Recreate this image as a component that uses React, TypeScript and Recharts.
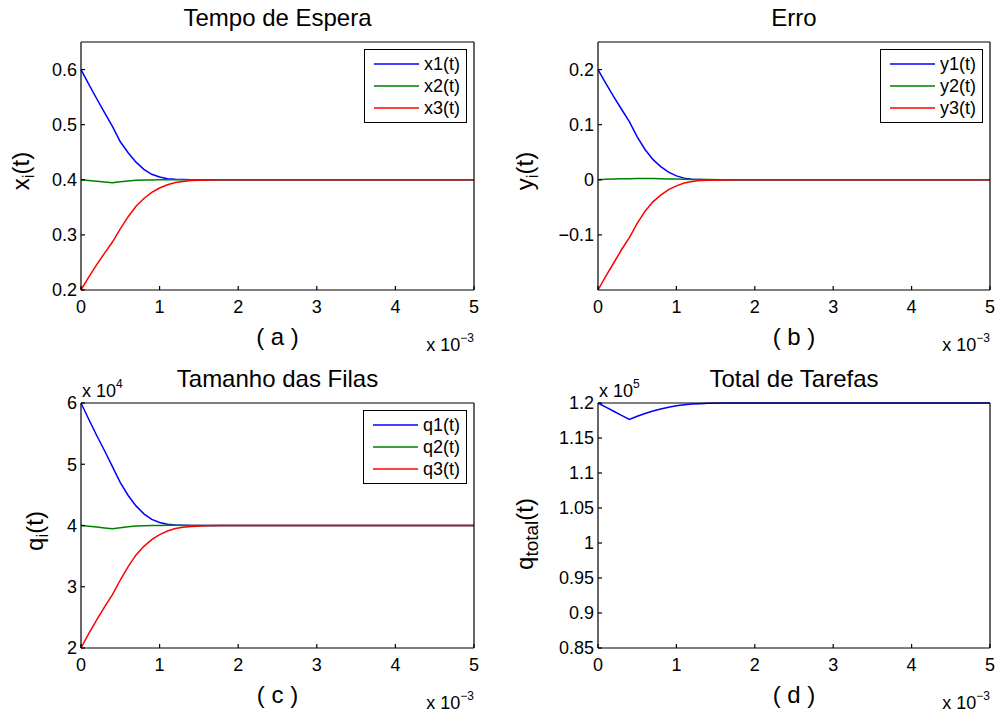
import React from 'react';
import { LineChart, Line, XAxis, YAxis, Legend } from 'recharts';

// time in seconds (axis shows x 10^-3)
const time = [0, 0.0001, 0.0002, 0.0003, 0.0004, 0.0005, 0.0006, 0.0007, 0.0008, 0.0009, 0.001, 0.0011, 0.0012, 0.0013, 0.0014, 0.0016, 0.0018, 0.002, 0.003, 0.004, 0.005];
const xTicks = [0, 0.001, 0.002, 0.003, 0.004, 0.005];

// (a) Tempo de Espera
const x1 = [0.6, 0.573, 0.547, 0.522, 0.497, 0.469, 0.449, 0.432, 0.419, 0.41, 0.405, 0.402, 0.401, 0.4005, 0.4, 0.4, 0.4, 0.4, 0.4, 0.4, 0.4];
const x2 = [0.4, 0.3987, 0.3974, 0.3961, 0.3948, 0.3965, 0.398, 0.399, 0.3995, 0.3998, 0.4, 0.4, 0.4, 0.4, 0.4, 0.4, 0.4, 0.4, 0.4, 0.4, 0.4];
const x3 = [0.2, 0.224, 0.246, 0.267, 0.287, 0.311, 0.333, 0.352, 0.366, 0.377, 0.385, 0.391, 0.395, 0.397, 0.3985, 0.3995, 0.4, 0.4, 0.4, 0.4, 0.4];
const aTicks = [0.2, 0.3, 0.4, 0.5, 0.6];

// (b) Erro
const y1 = [0.2, 0.175, 0.151, 0.128, 0.1055, 0.078, 0.055, 0.037, 0.024, 0.014, 0.007, 0.003, 0.001, 0.0004, 0, 0, 0, 0, 0, 0, 0];
const y2 = [0, 0.0008, 0.0014, 0.0018, 0.002, 0.0022, 0.0022, 0.0021, 0.0019, 0.0016, 0.0013, 0.001, 0.0007, 0.0005, 0.0003, 0.0001, 0, 0, 0, 0, 0];
const y3 = [-0.2, -0.175, -0.151, -0.127, -0.105, -0.079, -0.057, -0.04, -0.028, -0.018, -0.011, -0.006, -0.003, -0.0015, -0.0007, -0.0002, 0, 0, 0, 0, 0];
const bTicks = [-0.1, 0, 0.1, 0.2];

// (c) Tamanho das Filas
const q1 = [60000, 57300, 54700, 52200, 49600, 47000, 44900, 43200, 41900, 41000, 40500, 40200, 40100, 40050, 40000, 40000, 40000, 40000, 40000, 40000, 40000];
const q2 = [40000, 39870, 39740, 39610, 39480, 39650, 39800, 39900, 39950, 39980, 40020, 40030, 40030, 40020, 40015, 40010, 40000, 40000, 40000, 40000, 40000];
const q3 = [20000, 22400, 24600, 26700, 28700, 31100, 33300, 35200, 36600, 37700, 38500, 39100, 39500, 39700, 39850, 39950, 40000, 40000, 40000, 40000, 40000];
const cTicks = [20000, 30000, 40000, 50000, 60000];

// (d) Total de Tarefas
const qTotal = [120000, 119410, 118820, 118230, 117640, 118100, 118500, 118850, 119150, 119400, 119600, 119750, 119850, 119900, 119950, 120000, 120000, 120000, 120000, 120000, 120000];
const dTicks = [85000, 90000, 95000, 100000, 105000, 110000, 115000, 120000];

const FONT = '"Liberation Sans", Arial, Helvetica, sans-serif';
const BLUE = '#0000ff';
const GREEN = '#008000';
const RED = '#ff0000';

const rows = time.map((t, i) => ({
  t,
  x1: x1[i], x2: x2[i], x3: x3[i],
  y1: y1[i], y2: y2[i], y3: y3[i],
  q1: q1[i], q2: q2[i], q3: q3[i],
  qt: qTotal[i],
}));

type Series = { key: string; name: string; color: string };

function LegendBox({ items }: { items: Series[] }) {
  return (
    <div style={{ background: '#fff', border: '1.5px solid #000', padding: '3px 6px 3px 9px', fontSize: 18, color: '#000' }}>
      {items.map((s) => (
        <div key={s.key} style={{ display: 'flex', alignItems: 'center', height: 22 }}>
          <svg width={45} height={4} style={{ marginRight: 5 }}>
            <line x1={0} y1={2} x2={45} y2={2} stroke={s.color} strokeWidth={1.5} />
          </svg>
          <span>{s.name}</span>
        </div>
      ))}
    </div>
  );
}

interface PanelProps {
  plot: { x: number; y: number; w: number; h: number };
  yDomain: number[];
  yTicks: number[];
  yFmt: (v: number) => string;
  series: Series[];
  legend?: boolean;
}

function Panel({ plot, yDomain, yTicks, yFmt, series, legend }: PanelProps) {
  const tickStyle = { fill: '#000', fontSize: 18 };
  return (
    <div style={{ position: 'absolute', left: plot.x - 60, top: plot.y - 10 }}>
      <LineChart width={plot.w + 65} height={plot.h + 45} data={rows} margin={{ top: 9, right: 4, bottom: 15, left: 10 }}>
        <XAxis xAxisId="b" dataKey="t" type="number" domain={[0, 0.005]} ticks={xTicks} interval={0}
          tickFormatter={(v) => String(Math.round(v * 1000))} height={30} tickSize={-4} tickMargin={14}
          stroke="#000" strokeWidth={1.2} tick={tickStyle} />
        <XAxis xAxisId="top" orientation="top" dataKey="t" type="number" domain={[0, 0.005]} ticks={xTicks} interval={0}
          height={1} tick={false} tickSize={-4} stroke="#000" strokeWidth={1.2} />
        <YAxis yAxisId="l" type="number" domain={yDomain} ticks={yTicks} interval={0} tickFormatter={yFmt}
          width={50} tickSize={-4} tickMargin={8} stroke="#000" strokeWidth={1.2} tick={tickStyle} />
        <YAxis yAxisId="r" orientation="right" type="number" domain={yDomain} ticks={yTicks} interval={0}
          width={1} tick={false} tickSize={-4} stroke="#000" strokeWidth={1.2} />
        {legend && (
          <Legend content={<LegendBox items={series} />} layout="vertical" align="center" verticalAlign="middle"
            wrapperStyle={{ top: 17, right: 12, left: 'auto', width: 'auto' }} />
        )}
        {series.map((s) => (
          <Line key={s.key} xAxisId="b" yAxisId="l" type="linear" dataKey={s.key} name={s.name}
            stroke={s.color} strokeWidth={1.5} dot={false} isAnimationActive={false} />
        ))}
      </LineChart>
    </div>
  );
}

const minus = (v: number) => (v < 0 ? '\u2212' + String(-v) : String(v));

export default function App() {
  const pa = { x: 81, y: 42, w: 393, h: 258 };
  const pb = { x: 598, y: 42, w: 392, h: 258 };
  const pc = { x: 81, y: 403, w: 393, h: 255 };
  const pd = { x: 598, y: 403, w: 392, h: 255 };
  const panels = [pa, pb, pc, pd];
  const titles = ['Tempo de Espera', 'Erro', 'Tamanho das Filas', 'Total de Tarefas'];
  const subs = ['( a )', '( b )', '( c )', '( d )'];

  return (
    <div style={{ position: 'absolute', left: 0, top: 0, width: 995, height: 713, background: '#fff', fontFamily: FONT, overflow: 'hidden' }}>
      <Panel plot={pa} yDomain={[0.2, 0.65]} yTicks={aTicks} yFmt={(v) => String(v)} legend
        series={[{ key: 'x1', name: 'x1(t)', color: BLUE }, { key: 'x2', name: 'x2(t)', color: GREEN }, { key: 'x3', name: 'x3(t)', color: RED }]} />
      <Panel plot={pb} yDomain={[-0.2, 0.25]} yTicks={bTicks} yFmt={minus} legend
        series={[{ key: 'y1', name: 'y1(t)', color: BLUE }, { key: 'y2', name: 'y2(t)', color: GREEN }, { key: 'y3', name: 'y3(t)', color: RED }]} />
      <Panel plot={pc} yDomain={[20000, 60000]} yTicks={cTicks} yFmt={(v) => String(v / 10000)} legend
        series={[{ key: 'q1', name: 'q1(t)', color: BLUE }, { key: 'q2', name: 'q2(t)', color: GREEN }, { key: 'q3', name: 'q3(t)', color: RED }]} />
      <Panel plot={pd} yDomain={[85000, 120000]} yTicks={dTicks} yFmt={(v) => String(parseFloat((v / 100000).toFixed(2)))}
        series={[{ key: 'qt', name: 'qtotal(t)', color: BLUE }]} />

      <svg width={995} height={713} style={{ position: 'absolute', left: 0, top: 0, pointerEvents: 'none' }} fontFamily={FONT} fill="#000">
        {panels.map((p, i) => (
          <g key={i}>
            <text x={p.x + p.w / 2} y={p.y - 16} fontSize={24} textAnchor="middle">{titles[i]}</text>
            <text x={p.x + p.w / 2} y={p.y + p.h + 45} fontSize={24} textAnchor="middle">{subs[i]}</text>
            <text x={p.x + p.w} y={p.y + p.h + 51} fontSize={18} textAnchor="end">
              x 10<tspan dy={-9} fontSize={12}>{'\u22123'}</tspan>
            </text>
          </g>
        ))}
        <text x={82} y={397} fontSize={18}>x 10<tspan dy={-9} fontSize={12}>4</tspan></text>
        <text x={599} y={397} fontSize={18}>x 10<tspan dy={-9} fontSize={12}>5</tspan></text>

        <text transform="translate(29,171) rotate(-90)" fontSize={24} textAnchor="middle">
          x<tspan dy={5} fontSize={17}>i</tspan><tspan dy={-5}>(t)</tspan>
        </text>
        <text transform="translate(533,171) rotate(-90)" fontSize={24} textAnchor="middle">
          y<tspan dy={5} fontSize={17}>i</tspan><tspan dy={-5}>(t)</tspan>
        </text>
        <text transform="translate(43,531) rotate(-90)" fontSize={24} textAnchor="middle">
          q<tspan dy={5} fontSize={17}>i</tspan><tspan dy={-5}>(t)</tspan>
        </text>
        <text transform="translate(533,534) rotate(-90)" fontSize={24} textAnchor="middle">
          q<tspan dy={5} fontSize={19}>total</tspan><tspan dy={-5}>(t)</tspan>
        </text>
      </svg>
    </div>
  );
}
